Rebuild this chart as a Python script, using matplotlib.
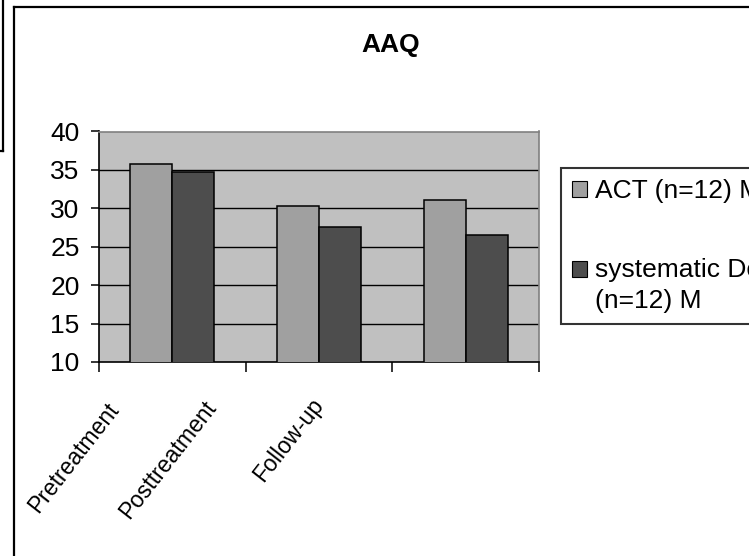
import matplotlib.pyplot as plt
import matplotlib.transforms as mtransforms
from matplotlib.lines import Line2D
import numpy as np

plt.rcParams["font.family"] = ["Liberation Sans", "DejaVu Sans"]

categories = ["Pretreatment", "Posttreatment", "Follow-up"]
act = [35.8, 30.3, 31.1]
systematic = [34.7, 27.6, 26.5]
series_names = ["ACT (n=12) M", "systematic Desensitization\n(n=12) M"]

fig = plt.figure(figsize=(7.49, 5.56), dpi=100)
W, H = 749, 556

# frames from the surrounding sheet
fig.add_artist(Line2D([14 / W, 14 / W], [0, 1 - 7 / H], color="black", lw=1.6))
fig.add_artist(Line2D([14 / W, 1.01], [1 - 7 / H, 1 - 7 / H], color="black", lw=1.6))
fig.add_artist(Line2D([3 / W, 3 / W], [1.01, 1 - 151 / H], color="black", lw=1.6))
fig.add_artist(Line2D([0, 3 / W], [1 - 151 / H, 1 - 151 / H], color="black", lw=1.6))

ax = fig.add_axes([99 / W, 1 - 362 / H, 440 / W, 230.5 / H])
ax.set_facecolor("#c0c0c0")

x = np.arange(len(categories))
w = 0.286
ax.bar(x - w / 2, act, w, color="#a0a0a0", edgecolor="black",
       linewidth=1.1, label=series_names[0], zorder=3)
ax.bar(x + w / 2, systematic, w, color="#4d4d4d", edgecolor="black",
       linewidth=1.1, label=series_names[1], zorder=3)

ax.set_ylim(10, 40)
ax.set_xlim(-0.5, 2.5)
ax.set_yticks(range(10, 41, 5))
ax.tick_params(axis="y", labelsize=19, length=6, width=1.1, pad=8, direction="out")
for yv in range(15, 40, 5):
    ax.axhline(yv, color="black", lw=1.0, zorder=1)

ax.set_xticks(np.arange(-0.5, 3, 1), minor=True)
ax.tick_params(axis="x", which="minor", length=7, width=1.1, direction="out")
ax.set_xticks(x)
ax.set_xticklabels(categories, rotation=52, ha="right", va="top",
                   rotation_mode="anchor", fontsize=16.5)
ax.tick_params(axis="x", which="major", length=0, pad=0)

# shift labels where the original put them
shifts = [(-67, -37), (-116, -34), (-156, -32)]
for lab, (dx, dy) in zip(ax.get_xticklabels(), shifts):
    lab.set_transform(lab.get_transform() +
                      mtransforms.ScaledTranslation(dx / 100, dy / 100, fig.dpi_scale_trans))

for s in ["left", "bottom"]:
    ax.spines[s].set_color("black")
    ax.spines[s].set_linewidth(1.2)
for s in ["top", "right"]:
    ax.spines[s].set_color("#808080")
    ax.spines[s].set_linewidth(1.2)

fig.text(391 / W, 1 - 45 / H, "AAQ", ha="center", va="center",
         fontsize=19, fontweight="bold")

leg = fig.legend(loc="upper left", bbox_to_anchor=(561 / W, 1 - 168 / H),
                 fontsize=19, frameon=True, fancybox=False, edgecolor="black",
                 handlelength=0.55, handleheight=0.55, handletextpad=0.3,
                 labelspacing=2.1, borderpad=0.42, borderaxespad=0)
leg.get_frame().set_linewidth(1.5)
for t in leg.get_texts():
    t.set_linespacing(1.35)
for i, p in enumerate(leg.get_patches()):
    p.set_linewidth(0.8)
    if i == 1:
        # keep the square next to the first line of the wrapped label
        p.set_y(p.get_y() + 12.5)

fig.savefig("out.png", dpi=100)
